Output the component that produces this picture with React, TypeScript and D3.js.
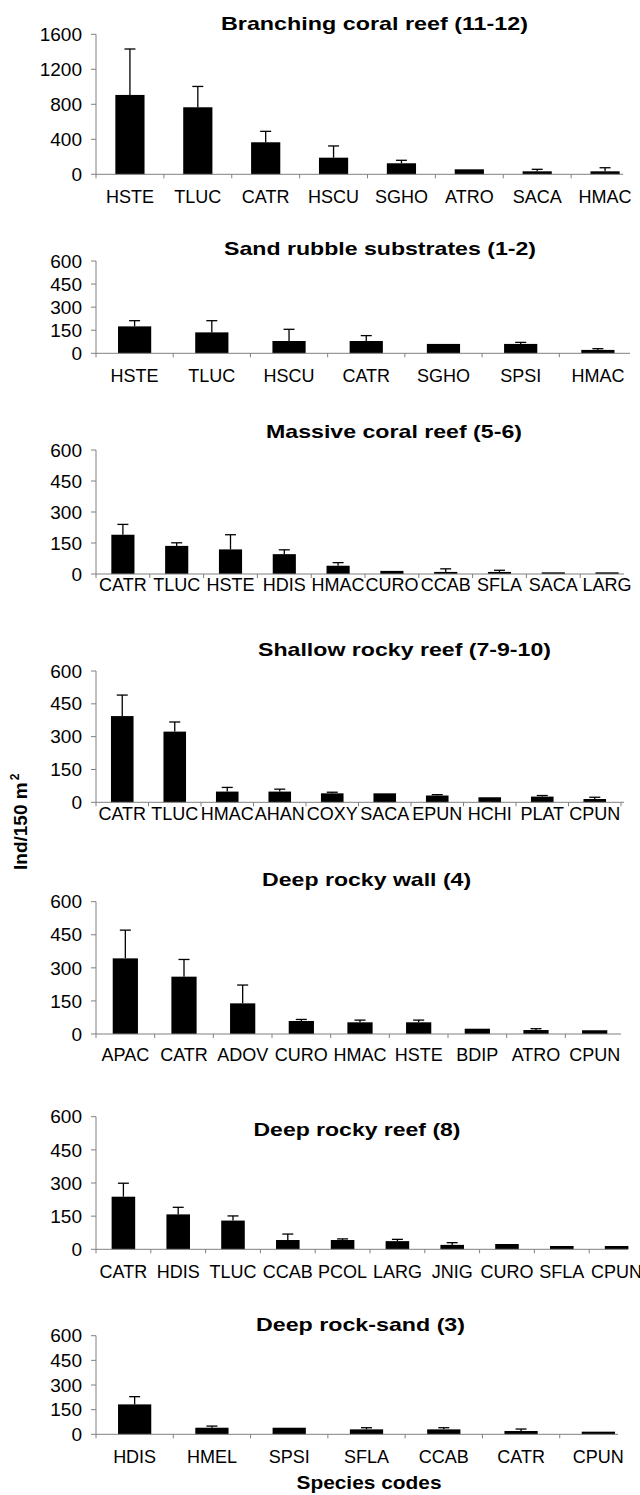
import * as d3 from "d3";

// species codes, mean density and the upper half of the error bar (Ind/150 m2)
const branchingCodes = ["HSTE", "TLUC", "CATR", "HSCU", "SGHO", "ATRO", "SACA", "HMAC"];
const branchingMeans = [907, 766, 366, 190, 126, 57, 34, 34];
const branchingErr = [525, 238, 125, 134, 34, 0, 23, 41];

const sandCodes = ["HSTE", "TLUC", "HSCU", "CATR", "SGHO", "SPSI", "HMAC"];
const sandMeans = [175, 136, 80, 80, 61, 61, 22];
const sandErr = [37, 76, 76, 35, 0, 10, 8];

const massiveCodes = ["CATR", "TLUC", "HSTE", "HDIS", "HMAC", "CURO", "CCAB", "SFLA", "SACA", "LARG"];
const massiveMeans = [190, 136, 119, 96, 40, 15, 10, 10, 8, 8];
const massiveErr = [50, 15, 71, 21, 15, 0, 15, 8, 0, 0];

const shallowCodes = ["CATR", "TLUC", "HMAC", "AHAN", "COXY", "SACA", "EPUN", "HCHI", "PLAT", "CPUN"];
const shallowMeans = [394, 323, 49, 49, 41, 41, 31, 23, 26, 15];
const shallowErr = [96, 44, 19, 11, 5, 0, 4, 0, 5, 8];

const wallCodes = ["APAC", "CATR", "ADOV", "CURO", "HMAC", "HSTE", "BDIP", "ATRO", "CPUN"];
const wallMeans = [343, 260, 139, 59, 53, 53, 24, 18, 17];
const wallErr = [128, 78, 83, 7, 10, 10, 0, 6, 0];

const deepReefCodes = ["CATR", "HDIS", "TLUC", "CCAB", "PCOL", "LARG", "JNIG", "CURO", "SFLA", "CPUN"];
const deepReefMeans = [238, 158, 130, 42, 42, 37, 20, 24, 15, 15];
const deepReefErr = [61, 32, 21, 27, 5, 8, 10, 0, 0, 0];

const rockSandCodes = ["HDIS", "HMEL", "SPSI", "SFLA", "CCAB", "CATR", "CPUN"];
const rockSandMeans = [182, 40, 40, 30, 30, 20, 16];
const rockSandErr = [47, 10, 0, 10, 10, 12, 0];

const ticks1600 = [0, 400, 800, 1200, 1600];
const ticks600 = [0, 150, 300, 450, 600];

const titles = [
  "Branching coral reef (11-12)",
  "Sand rubble substrates (1-2)",
  "Massive coral reef (5-6)",
  "Shallow rocky reef (7-9-10)",
  "Deep rocky wall (4)",
  "Deep rocky reef (8)",
  "Deep rock-sand (3)",
];

const panels = [
  { codes: branchingCodes, means: branchingMeans, err: branchingErr, ticks: ticks1600 },
  { codes: sandCodes, means: sandMeans, err: sandErr, ticks: ticks600 },
  { codes: massiveCodes, means: massiveMeans, err: massiveErr, ticks: ticks600 },
  { codes: shallowCodes, means: shallowMeans, err: shallowErr, ticks: ticks600 },
  { codes: wallCodes, means: wallMeans, err: wallErr, ticks: ticks600 },
  { codes: deepReefCodes, means: deepReefMeans, err: deepReefErr, ticks: ticks600 },
  { codes: rockSandCodes, means: rockSandMeans, err: rockSandErr, ticks: ticks600 },
].map((p, i) => ({ ...p, title: titles[i] }));

// where each small chart sits on the page
const layout = [
  { top: 34.3, zero: 174.3, x1: 639, axisEnd: 623, tx: 374.5, ty: 29.5, tw: 307, ly: 29 },
  { top: 261, zero: 353.3, x1: 636.5, axisEnd: 630, tx: 380, ty: 254.5, tw: 312, ly: 29 },
  { top: 450, zero: 574, x1: 634, axisEnd: 624, tx: 394, ty: 438, tw: 256, ly: 16.5 },
  { top: 671, zero: 802.3, x1: 621, axisEnd: 624, tx: 404.5, ty: 656, tw: 293, ly: 17.5 },
  { top: 901.7, zero: 1034, x1: 624, axisEnd: 621, tx: 366.6, ty: 886, tw: 209, ly: 27 },
  { top: 1116.7, zero: 1249.3, x1: 644, axisEnd: 628, tx: 357, ty: 1136, tw: 207, ly: 29 },
  { top: 1335.7, zero: 1434.3, x1: 637, axisEnd: 618, tx: 360.5, ty: 1331, tw: 209, ly: 28.5 },
];

const W = 640;
const H = 1495;
const X0 = 96;
const BAR = 0.43;
const AXIS = "#808080";
const FONT = "'Liberation Sans', Arial, sans-serif";

function Panel({ p, l }) {
  const x = d3.scaleBand().domain(p.codes).range([X0, l.x1]);
  const y = d3
    .scaleLinear()
    .domain([0, p.ticks[p.ticks.length - 1]])
    .range([l.zero, l.top]);
  const bw = x.bandwidth();
  const boundaries = p.codes.map((c) => x(c)).concat([l.x1]).filter((v) => v <= l.axisEnd + 1);

  return (
    <g>
      <text
        x={l.tx}
        y={l.ty}
        textAnchor="middle"
        fontWeight="bold"
        fontSize={19}
        textLength={l.tw}
        lengthAdjust="spacingAndGlyphs"
      >
        {p.title}
      </text>

      {/* value axis */}
      <line x1={X0} x2={X0} y1={y(p.ticks[p.ticks.length - 1])} y2={l.zero} stroke={AXIS} />
      {p.ticks.map((t) => (
        <g key={t}>
          <line x1={X0 - 5} x2={X0} y1={y(t)} y2={y(t)} stroke={AXIS} />
          <text x={82} y={y(t)} dy="0.35em" textAnchor="end" fontSize={19}>
            {t}
          </text>
        </g>
      ))}

      {/* bars and error bars */}
      {p.codes.map((c, i) => {
        const cx = x(c) + bw / 2;
        const top = y(p.means[i]);
        const hi = y(p.means[i] + p.err[i]);
        return (
          <g key={c}>
            <rect x={cx - (bw * BAR) / 2} y={top} width={bw * BAR} height={l.zero - top} fill="#000" />
            {p.err[i] > 0 && (
              <g stroke="#000" strokeWidth={1.3}>
                <line x1={cx} x2={cx} y1={top} y2={hi} />
                <line x1={cx - 5.5} x2={cx + 5.5} y1={hi} y2={hi} />
              </g>
            )}
          </g>
        );
      })}

      {/* category axis */}
      <line x1={X0} x2={l.axisEnd} y1={l.zero} y2={l.zero} stroke={AXIS} />
      {boundaries.map((b, i) => (
        <line key={i} x1={b} x2={b} y1={l.zero} y2={l.zero + 4} stroke={AXIS} />
      ))}
      {p.codes.map((c) => (
        <text key={c} x={x(c) + bw / 2} y={l.zero + l.ly} textAnchor="middle" fontSize={18}>
          {c}
        </text>
      ))}
    </g>
  );
}

export default function App() {
  return (
    <svg
      width={W}
      height={H}
      style={{ position: "absolute", left: 0, top: 0, display: "block" }}
      fontFamily={FONT}
    >
      <rect width={W} height={H} fill="#fff" />
      {panels.map((p, i) => (
        <Panel key={p.title} p={p} l={layout[i]} />
      ))}
      <text transform="translate(27,870) rotate(-90)" fontWeight="bold" fontSize={19}>
        Ind/150 m
        <tspan dx={2} dy={-8} fontSize={12}>
          2
        </tspan>
      </text>
      <text
        x={369}
        y={1489}
        textAnchor="middle"
        fontWeight="bold"
        fontSize={19}
        textLength={145}
        lengthAdjust="spacingAndGlyphs"
      >
        Species codes
      </text>
    </svg>
  );
}
